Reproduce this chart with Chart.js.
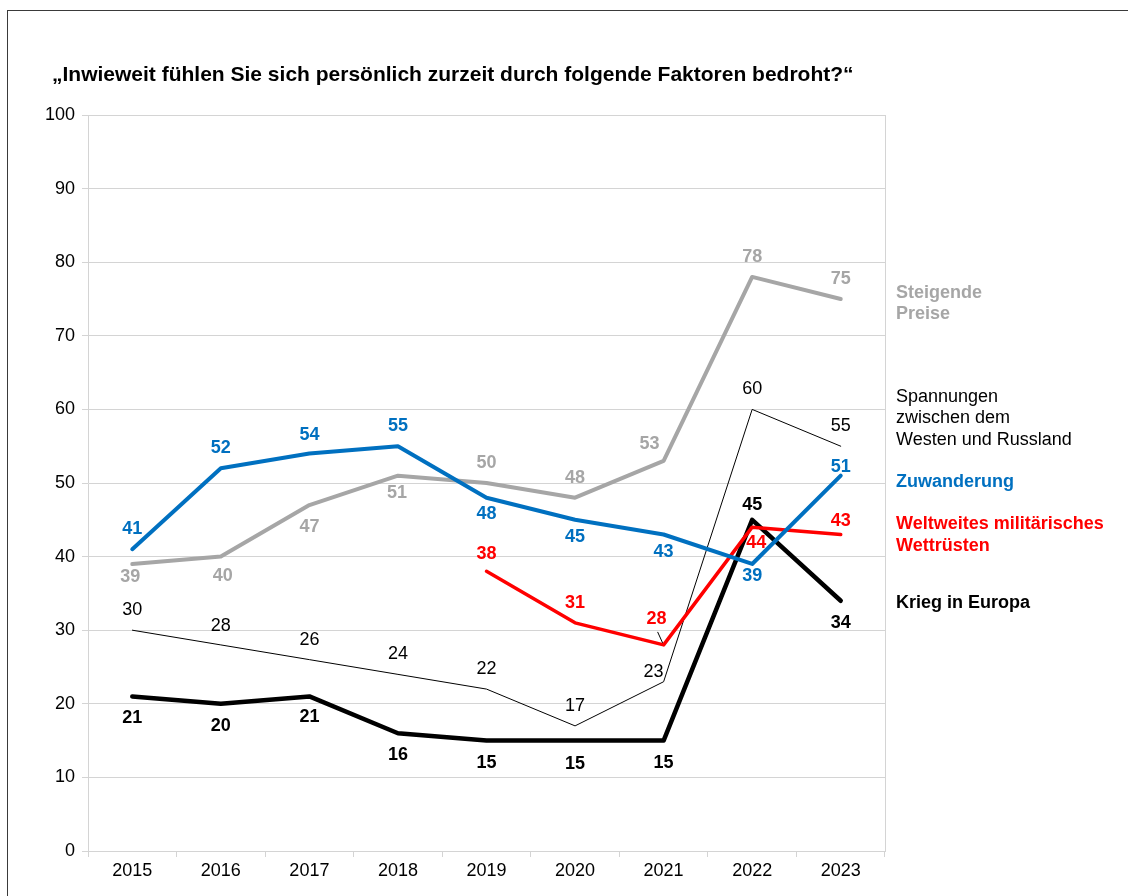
<!DOCTYPE html>
<html lang="de">
<head>
<meta charset="utf-8">
<script src="https://cdn.jsdelivr.net/npm/chart.js@4.4.1/dist/chart.umd.min.js"></script>
<style>
  html, body { margin: 0; padding: 0; background: #fff; }
  body { width: 1128px; height: 896px; position: relative; overflow: hidden; font-family: "Liberation Sans", Arial, sans-serif; }
  #frame { position: absolute; left: 7px; top: 10px; width: 1200px; height: 1000px; border-top: 1.5px solid #3a3a3a; border-left: 1.5px solid #3a3a3a; }
  #chart { position: absolute; left: 0; top: 0; }
  .titel { position: absolute; left: 52px; top: 62px; font-size: 21px; font-weight: bold; color: #000; white-space: nowrap; }
  .legende { position: absolute; left: 896px; font-size: 18px; line-height: 21px; white-space: nowrap; }
</style>
</head>
<body>
<div id="frame"></div>
<canvas id="chart" width="1128" height="896"></canvas>
<div class="titel">„Inwieweit fühlen Sie sich persönlich zurzeit durch folgende Faktoren bedroht?“</div>
<div class="legende" style="top:282px;color:#a6a6a6;font-weight:bold;line-height:20.6px">Steigende<br>Preise</div>
<div class="legende" style="top:386px;color:#000;line-height:21.3px">Spannungen<br>zwischen dem<br>Westen und Russland</div>
<div class="legende" style="top:471px;color:#0070c0;font-weight:bold">Zuwanderung</div>
<div class="legende" style="top:513px;color:#ff0000;font-weight:bold;line-height:21.7px">Weltweites militärisches<br>Wettrüsten</div>
<div class="legende" style="top:592px;color:#000;font-weight:bold">Krieg in Europa</div>
<script>
  // Werte
  const jahre = ['2015', '2016', '2017', '2018', '2019', '2020', '2021', '2022', '2023'];
  const zuwanderung = [41, 52, 54, 55, 48, 45, 43, 39, 51];
  const wettruesten = [null, null, null, null, 38, 31, 28, 44, 43];
  const steigendePreise = [39, 40, 47, 51, 50, 48, 53, 78, 75];
  const kriegEuropa = [21, 20, 21, 16, 15, 15, 15, 45, 34];
  const spannungen = [30, 28, 26, 24, 22, 17, 23, 60, 55];

  // Lage der Wertebeschriftungen (Pixelversatz zum Punkt)
  const dyZuwanderung = [-20, -20, -19, -20, 16, 17, 18, 12, -9];
  const dyWettruesten = [0, 0, 0, 0, -17, -20, -26, 16, -13];
  const dxWettruesten = [0, 0, 0, 0, 0, 0, -7, 4, 0];
  const dyPreise = [13, 19, 22, 17, -20, -20, -17, -20, -20];
  const dxPreise = [-2, 2, 0, -1, 0, 0, -14, 0, 0];
  const dyKrieg = [22, 22, 21, 22, 22, 23, 22, -15, 22];
  const dySpannungen = [-20, -19, -20, -20, -20, -20, -10, -20, -20];
  const dxSpannungen = [0, 0, 0, 0, 0, 0, -10, 0, 0];

  const GRID = '#d4d4d4';
  const FONT = '"Liberation Sans", Arial, sans-serif';
  Chart.defaults.font.family = FONT;
  Chart.defaults.color = '#000';

  function serie(label, data, color, width, extra) {
    return Object.assign({
      label, data,
      borderColor: color, backgroundColor: color,
      borderWidth: width, pointRadius: 0, pointHoverRadius: 0,
      tension: 0, borderJoinStyle: 'round', borderCapStyle: 'round',
      spanGaps: false
    }, extra);
  }

  const werteLabels = {
    id: 'werteLabels',
    afterDatasetsDraw(chart) {
      const ctx = chart.ctx;
      ctx.save();
      ctx.textAlign = 'center';
      ctx.textBaseline = 'middle';
      chart.data.datasets.forEach((ds, i) => {
        const meta = chart.getDatasetMeta(i);
        ctx.font = (ds.labelBold ? 'bold ' : '') + '18px ' + FONT;
        ctx.fillStyle = ds.labelColor;
        meta.data.forEach((pt, j) => {
          const v = ds.data[j];
          if (v === null) return;
          const dx = ds.labelDx ? ds.labelDx[j] : 0;
          ctx.fillText(String(v), pt.x + dx, pt.y + ds.labelDy[j]);
        });
        if (ds.leader !== undefined) {
          const pt = meta.data[ds.leader];
          ctx.strokeStyle = '#000';
          ctx.lineWidth = 1;
          ctx.beginPath();
          ctx.moveTo(pt.x - 6, pt.y - 13);
          ctx.lineTo(pt.x - 1, pt.y - 2);
          ctx.stroke();
        }
      });
      ctx.restore();
    }
  };

  const rahmen = {
    id: 'rahmen',
    beforeDatasetsDraw(chart) {
      const { ctx, chartArea } = chart;
      ctx.save();
      ctx.strokeStyle = GRID;
      ctx.lineWidth = 1;
      ctx.beginPath();
      ctx.moveTo(Math.round(chartArea.right) + 0.5, chartArea.top);
      ctx.lineTo(Math.round(chartArea.right) + 0.5, chartArea.bottom);
      ctx.stroke();
      ctx.restore();
    }
  };

  new Chart(document.getElementById('chart'), {
    type: 'line',
    data: {
      labels: jahre,
      datasets: [
        serie('Zuwanderung', zuwanderung, '#0070c0', 4,
          { labelColor: '#0070c0', labelBold: true, labelDy: dyZuwanderung }),
        serie('Weltweites militärisches Wettrüsten', wettruesten, '#ff0000', 3.5,
          { labelColor: '#ff0000', labelBold: true, labelDy: dyWettruesten, labelDx: dxWettruesten, leader: 6 }),
        serie('Steigende Preise', steigendePreise, '#a6a6a6', 4,
          { labelColor: '#a6a6a6', labelBold: true, labelDy: dyPreise, labelDx: dxPreise }),
        serie('Krieg in Europa', kriegEuropa, '#000000', 4.5,
          { labelColor: '#000', labelBold: true, labelDy: dyKrieg }),
        serie('Spannungen zwischen dem Westen und Russland', spannungen, '#000000', 1,
          { labelColor: '#000', labelBold: false, labelDy: dySpannungen, labelDx: dxSpannungen })
      ]
    },
    options: {
      responsive: false,
      animation: false,
      layout: { padding: { left: 0, right: 243, top: 115, bottom: 0 } },
      plugins: {
        legend: { display: false },
        title: { display: false },
        tooltip: { enabled: false }
      },
      scales: {
        x: {
          offset: true,
          grid: { offset: true, drawOnChartArea: false, drawTicks: true, tickLength: 6, color: GRID },
          border: { color: GRID },
          ticks: { font: { size: 18 }, color: '#000', padding: 3, maxRotation: 0 },
          afterFit: s => { s.height = 45; }
        },
        y: {
          min: 0, max: 100,
          grid: { color: GRID, tickLength: 6 },
          border: { color: GRID },
          ticks: { stepSize: 10, font: { size: 18 }, color: '#000', padding: 7 },
          afterFit: s => { s.width = 88; }
        }
      }
    },
    plugins: [rahmen, werteLabels]
  });
</script>
</body>
</html>
